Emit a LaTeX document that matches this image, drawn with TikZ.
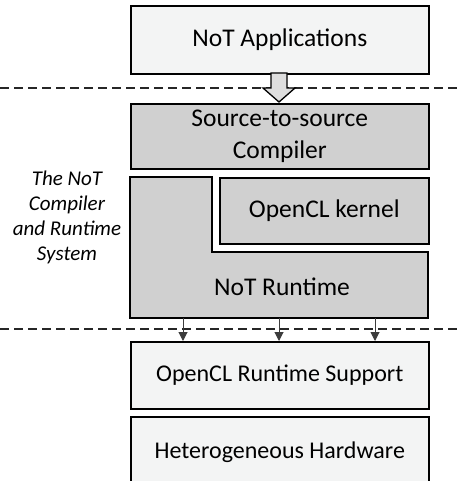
\documentclass[tikz,border=0pt]{standalone}
\usepackage{fontspec}
\setmainfont{Carlito}
\usetikzlibrary{arrows.meta}
\definecolor{paleface}{RGB}{243,244,244}
\definecolor{midgray}{RGB}{208,208,208}
\definecolor{shaftgray}{RGB}{222,222,222}
\definecolor{wiregray}{RGB}{60,60,60}
\tikzset{
  layer/.style={draw=black, line width=1.6pt, minimum width=298pt, inner sep=0pt,
    font=\fontsize{24}{30}\selectfont, align=center},
  lightlayer/.style={layer, fill=paleface},
  graylayer/.style={layer, fill=midgray, font=\fontsize{25.5}{32}\selectfont},
  divider/.style={draw=black!85, line width=1.4pt, dash pattern=on 9pt off 5pt},
  callarrow/.style={draw=wiregray, line width=1pt, -{Triangle[length=9pt,width=9pt]}},
  sidenote/.style={font=\fontsize{21}{25}\selectfont\itshape, align=center}
}
\begin{document}
\begin{tikzpicture}[x=1pt, y=-1pt]
\clip (0,0) rectangle (460,481);
\fill[white] (0,0) rectangle (460,481);

% application layer
\node[lightlayer, minimum height=68pt, font=\fontsize{25.5}{32}\selectfont, anchor=north west] (apps) at (130,5) {NoT Applications};

% upper divider
\draw[divider] (0,88) -- (460,88);

% hollow block arrow into the compiler
\draw[fill=shaftgray, line width=1.3pt, line join=miter]
  (271,73) -- (287,73) -- (287,88) -- (295,88) -- (279,102) -- (263,88) -- (271,88) -- cycle;

% compiler and runtime system
\node[graylayer, minimum height=65pt, anchor=north west] (s2s) at (130,103) {Source-to-source\\Compiler};
\node[graylayer, minimum width=209pt, minimum height=66pt, anchor=north west] (kernel) at (219,177) {OpenCL kernel};
\path[draw=black, line width=1.6pt, fill=midgray]
  (130,177) -- (212,177) -- (212,252) -- (428,252) -- (428,318) -- (130,318) -- cycle;
\node[font=\fontsize{25.5}{32}\selectfont] (runtime) at (282,287) {NoT Runtime};
\coordinate (rtbase) at (130,318);

\node[sidenote] (side) at (67,217) {The NoT\\Compiler\\and Runtime\\System};

% lower divider
\draw[divider] (0,329) -- (460,329);

% platform layers
\node[lightlayer, minimum height=67pt, anchor=north west] (oclrt) at (130,341) {OpenCL Runtime Support};
\node[lightlayer, minimum height=70pt, anchor=north west] (hw) at (130,416) {Heterogeneous Hardware};

% runtime calls into the OpenCL runtime
\coordinate (c1) at (183,318);
\coordinate (c2) at (279,318);
\coordinate (c3) at (375,318);
\draw[callarrow] (c1) -- (c1 |- oclrt.north);
\draw[callarrow] (c2) -- (c2 |- oclrt.north);
\draw[callarrow] (c3) -- (c3 |- oclrt.north);
\end{tikzpicture}
\end{document}
